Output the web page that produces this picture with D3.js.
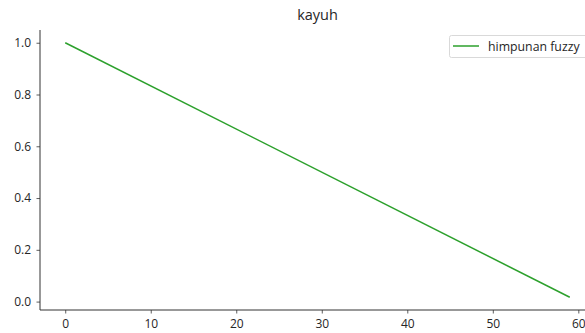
<!DOCTYPE html>
<html><head><meta charset="utf-8">
<script src="https://cdn.jsdelivr.net/npm/d3@7"></script>
<style>body{margin:0;background:#fff;overflow:hidden}svg{display:block}</style>
</head><body>
<script>
const xValues = [0, 59];
const yValues = [1.0, 0.0167];
const xTicks = [0, 10, 20, 30, 40, 50, 60];
const yTicks = [0.0, 0.2, 0.4, 0.6, 0.8, 1.0];
const title = "kayuh";
const seriesLabel = "himpunan fuzzy";

const W = 585, H = 333;
const FONT = "'Open Sans', 'Noto Sans', sans-serif";
const mLeft = 40, mRight = 595, mTop = 30, mBottom = 310;
const svg = d3.select("body").append("svg").attr("width", W).attr("height", H)
  .style("font-family", FONT);

const x = d3.scaleLinear().domain([-2.95, 61.95]).range([mLeft, mRight]);
const y = d3.scaleLinear().domain([-0.0325, 1.0492]).range([mBottom, mTop]);

const ax = svg.append("g").attr("transform", `translate(0,${mBottom})`)
  .call(d3.axisBottom(x).tickValues(xTicks).tickFormat(d3.format("d")).tickSize(3.5).tickPadding(5.5));
const ay = svg.append("g").attr("transform", `translate(${mLeft},0)`)
  .call(d3.axisLeft(y).tickValues(yTicks).tickFormat(d3.format(".1f")).tickSize(3.5).tickPadding(5.5));
[ax, ay].forEach(g => {
  g.select(".domain").attr("stroke", "#333").attr("stroke-width", 1);
  g.selectAll(".tick line").attr("stroke", "#333").attr("stroke-width", 0.8);
  g.selectAll(".tick text").attr("fill", "#262626").style("font-size", "12px").style("font-family", FONT);
});
ay.select(".domain").attr("d", `M0,${mTop}V${mBottom}`);
ax.select(".domain").attr("d", `M${mLeft},0H${mRight}`);

const pts = xValues.map((v, i) => [v, yValues[i]]);
svg.append("path").datum(pts)
  .attr("d", d3.line().x(d => x(d[0])).y(d => y(d[1])))
  .attr("fill", "none").attr("stroke", "#2ca02c").attr("stroke-width", 1.5);

svg.append("text").attr("x", (mLeft + mRight) / 2).attr("y", 20).attr("text-anchor", "middle")
  .style("font-size", "14.5px").attr("fill", "#262626").text(title);

const lg = svg.append("g");
lg.append("rect").attr("x", 449.5).attr("y", 35.5).attr("width", 140).attr("height", 22).attr("rx", 2)
  .attr("fill", "#fff").attr("stroke", "#d9d9d9").attr("stroke-width", 1);
lg.append("line").attr("x1", 453).attr("x2", 479).attr("y1", 46).attr("y2", 46)
  .attr("stroke", "#2ca02c").attr("stroke-width", 1.5);
lg.append("text").attr("x", 488).attr("y", 50.5).style("font-size", "12.3px").attr("fill", "#262626").text(seriesLabel);
</script>
</body></html>
